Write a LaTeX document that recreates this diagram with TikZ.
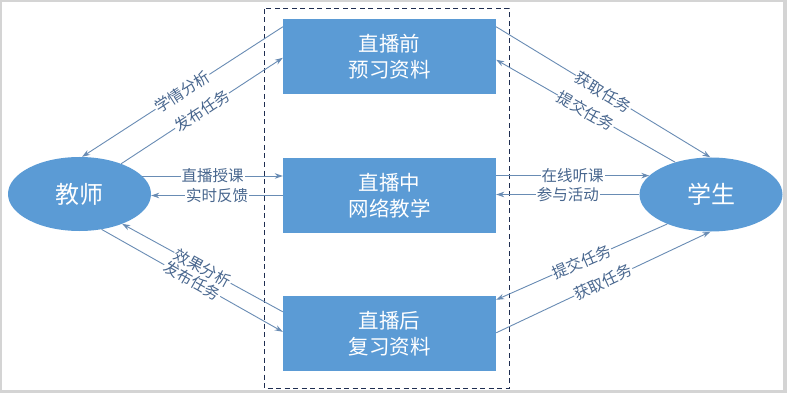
\documentclass[tikz,border=0pt]{standalone}
\usepackage{fontspec}
\newfontfamily\cjk{Noto Sans CJK SC}
\usetikzlibrary{arrows.meta,shapes.geometric,calc}
\definecolor{boxblue}{RGB}{91,155,213}
\definecolor{linec}{RGB}{105,140,180}
\definecolor{labc}{RGB}{72,102,142}
\definecolor{dashc}{RGB}{30,45,80}
\definecolor{framec}{RGB}{212,212,212}
\tikzset{
  stagebox/.style={draw=none,fill=boxblue,minimum width=213pt,minimum height=75pt,
    text=white,font=\cjk\fontsize{20.5}{26}\selectfont,align=center,inner sep=0pt},
  roleell/.style={ellipse,draw=none,fill=boxblue,minimum width=143pt,minimum height=74pt,
    text=white,font=\cjk\fontsize{24}{26}\selectfont,inner sep=0pt},
  conn/.style={draw=linec,line width=0.9pt,-{Stealth[length=8pt,width=5.5pt]}},
  lab/.style={midway,sloped,fill=white,text=labc,inner sep=1pt,
    font=\cjk\fontsize{15.5}{16}\selectfont}
}
\begin{document}
\begin{tikzpicture}[x=1pt,y=-1pt]
\fill[framec] (0,0) rectangle (787,393);
\fill[white] (2,2) rectangle (783,390);
\useasboundingbox (0,0) rectangle (787,393);
\node[stagebox] (pre)  at (389.5,56.5)  {直播前\\预习资料};
\node[stagebox] (mid)  at (389.5,195.5) {直播中\\网络教学};
\node[stagebox] (post) at (389.5,333.5) {直播后\\复习资料};
\node[roleell] (teacher) at (79.5,194) {教师};
\node[roleell] (student) at (711,194.5) {学生};
\draw[dashc,line width=1pt,dash pattern=on 5pt off 3.5pt] (264,9) rectangle (509,388);
% top left
\draw[conn] ([yshift=-8pt]pre.north west) -- (teacher.86) node[lab] {学情分析};
\draw[conn] (teacher.36) -- ([yshift=-39pt]pre.north west) node[lab] {发布任务};
% middle left
\draw[conn] (teacher.16) -- (teacher.16 -| mid.west) node[lab] {直播授课};
\draw[conn] (mid.west) -- (mid.west -| teacher.east) node[lab] {实时反馈};
% bottom left
\draw[conn] ([yshift=-16pt]post.north west) -- (teacher.325) node[lab] {效果分析};
\draw[conn] (teacher.302) -- ([yshift=-36pt]post.north west) node[lab] {发布任务};
% top right
\draw[conn] ([yshift=-8pt]pre.north east) -- (student.91) node[lab] {获取任务};
\draw[conn] (student.138) -- ([yshift=-41pt]pre.north east) node[lab] {提交任务};
% middle right
\draw[conn] (student.163 -| mid.east) -- (student.163) node[lab] {在线听课};
\draw[conn] (student.west) -- (student.west -| mid.east) node[lab] {参与活动};
% bottom right
\draw[conn] (student.214) -- ([yshift=-4pt]post.north east) node[lab] {提交任务};
\draw[conn] ([yshift=-37pt]post.north east) -- (student.269) node[lab] {获取任务};
\end{tikzpicture}
\end{document}
